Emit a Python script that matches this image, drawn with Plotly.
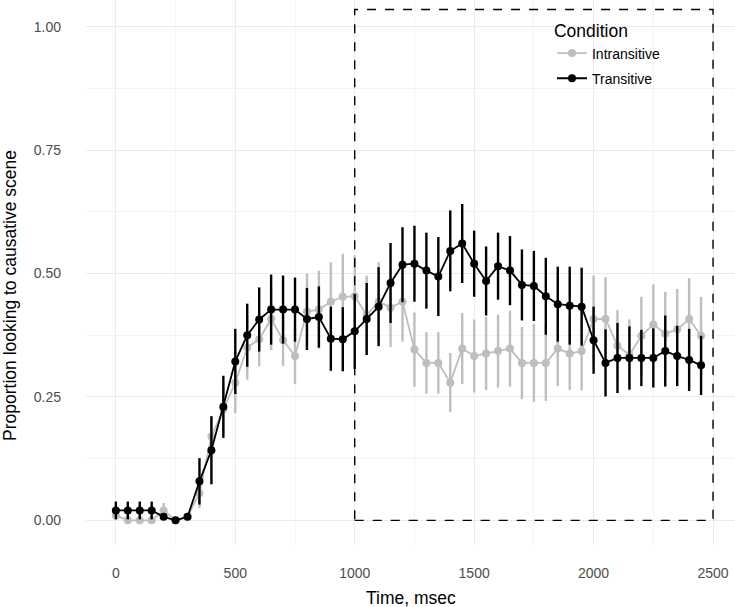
import plotly.graph_objects as go

time_ms = list(range(0, 2500, 50))

transitive = [0.02, 0.02, 0.02, 0.02, 0.007, 0.0, 0.007, 0.079, 0.142, 0.23,
              0.322, 0.375, 0.407, 0.427, 0.427, 0.427, 0.408, 0.412, 0.368, 0.367,
              0.383, 0.408, 0.433, 0.481, 0.518, 0.52, 0.506, 0.494, 0.546, 0.561,
              0.52, 0.485, 0.515, 0.506, 0.477, 0.475, 0.454, 0.438, 0.435, 0.433,
              0.365, 0.319, 0.329, 0.329, 0.329, 0.329, 0.343, 0.333, 0.325, 0.314]
transitive_se = [0.018, 0.018, 0.018, 0.018, 0.0, 0.0, 0.0, 0.047, 0.069, 0.063,
                 0.066, 0.064, 0.065, 0.071, 0.069, 0.065, 0.063, 0.062, 0.065, 0.065,
                 0.076, 0.073, 0.08, 0.081, 0.076, 0.077, 0.077, 0.08, 0.082, 0.08,
                 0.067, 0.07, 0.068, 0.07, 0.072, 0.071, 0.078, 0.076, 0.079, 0.079,
                 0.068, 0.068, 0.071, 0.064, 0.057, 0.06, 0.072, 0.061, 0.063, 0.06]

intransitive = [0.01, 0.0, 0.0, 0.0, 0.02, 0.0, 0.007, 0.055, 0.17, 0.225,
                0.279, 0.35, 0.367, 0.408, 0.365, 0.333, 0.423, 0.427, 0.443, 0.453,
                0.454, 0.416, 0.443, 0.431, 0.443, 0.346, 0.319, 0.319, 0.279, 0.348,
                0.333, 0.338, 0.343, 0.348, 0.319, 0.319, 0.319, 0.348, 0.338, 0.343,
                0.408, 0.408, 0.354, 0.335, 0.374, 0.397, 0.378, 0.387, 0.408, 0.374]
intransitive_se = [0.008, 0.0, 0.0, 0.0, 0.015, 0.0, 0.005, 0.03, 0.04, 0.05,
                   0.062, 0.065, 0.055, 0.063, 0.052, 0.057, 0.077, 0.079, 0.08, 0.087,
                   0.083, 0.08, 0.08, 0.08, 0.081, 0.075, 0.062, 0.062, 0.06, 0.072,
                   0.074, 0.074, 0.074, 0.077, 0.073, 0.079, 0.077, 0.076, 0.074, 0.08,
                   0.088, 0.085, 0.072, 0.072, 0.079, 0.081, 0.085, 0.082, 0.083, 0.079]

window = [1000, 2500, 0.0, 1.035]
x_ticks = [0, 500, 1000, 1500, 2000, 2500]
y_ticks = [0.0, 0.25, 0.5, 0.75, 1.0]
y_tick_labels = ["0.00", "0.25", "0.50", "0.75", "1.00"]

GRAY = "#BEBEBE"
BLACK = "#000000"
FONT = "Liberation Sans, Arial, sans-serif"

fig = go.Figure()
for name, vals, se, col in [("Intransitive", intransitive, intransitive_se, GRAY),
                            ("Transitive", transitive, transitive_se, BLACK)]:
    fig.add_trace(go.Scatter(
        x=time_ms, y=vals, name=name, mode="lines+markers", legendgroup=name,
        line=dict(color=col, width=1.8),
        marker=dict(color=col, size=8),
        error_y=dict(type="data", array=se, visible=True, width=0,
                     thickness=2.4, color=col),
    ))

fig.add_shape(type="rect", x0=window[0], x1=window[1], y0=window[2], y1=window[3],
              line=dict(color="black", width=1.4, dash="dash"), layer="above")

fig.add_annotation(text="Time, msec", xref="paper", yref="paper",
                   x=0.5, y=-0.0966, xanchor="center", yanchor="middle",
                   showarrow=False, font=dict(size=17.5, color="black", family=FONT))
fig.add_annotation(text="Proportion looking to causative scene", xref="paper", yref="paper",
                   x=-0.1163, y=0.458, xanchor="center", yanchor="middle", textangle=-90,
                   showarrow=False, font=dict(size=17.5, color="black", family=FONT))

fig.update_layout(
    width=735, height=607,
    margin=dict(l=86, r=0, t=0, b=62, autoexpand=False),
    plot_bgcolor="white", paper_bgcolor="white",
    font=dict(family=FONT, size=14, color="#4D4D4D"),
    showlegend=True,
    legend=dict(
        title=dict(text="Condition", font=dict(size=17.5, color="black")),
        x=0.718, y=0.973, xanchor="left", yanchor="top",
        bgcolor="rgba(0,0,0,0)", font=dict(size=14, color="black"),
        itemwidth=30, tracegroupgap=4,
    ),
    xaxis=dict(
        range=[-125, 2592], tickvals=x_ticks, showline=False, zeroline=False,
        automargin=False,
        gridcolor="#EBEBEB", gridwidth=1, ticks="", ticklabelstandoff=18,
        minor=dict(dtick=250, tick0=0, showgrid=True, gridcolor="#F4F4F4", gridwidth=0.6),
        tickfont=dict(size=14, color="#4D4D4D"),
    ),
    yaxis=dict(
        range=[-0.05, 1.0544], tickvals=y_ticks, ticktext=y_tick_labels,
        showline=False, zeroline=False, automargin=False,
        gridcolor="#EBEBEB", gridwidth=1, ticks="", ticklabelstandoff=24,
        minor=dict(dtick=0.125, tick0=0, showgrid=True, gridcolor="#F4F4F4", gridwidth=0.6),
        tickfont=dict(size=14, color="#4D4D4D"),
    ),
)

fig.write_html("out.html", config={"displayModeBar": False},
               post_script="document.body.style.margin='0';")
